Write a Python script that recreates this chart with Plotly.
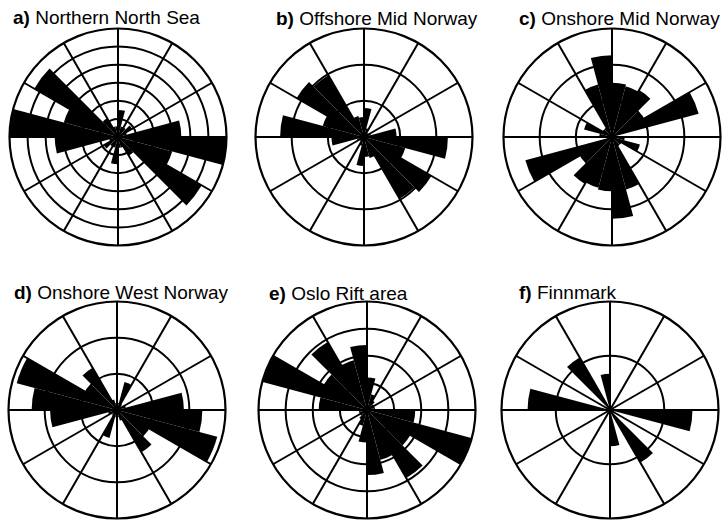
import plotly.graph_objects as go

# Bidirectional rose diagrams: 15-degree azimuth bins (0-180), mirrored to 180-360
bin_starts = [0, 15, 30, 45, 60, 75, 90, 105, 120, 135, 150, 165]
bin_width = 15

northern_north_sea = [1.5, 0.6, 0.6, 0.9, 0.5, 3.5, 6.0, 3.1, 5.35, 1.2, 0.6, 0.6]
offshore_mid_norway = [0.8, 0.25, 0.15, 0.15, 0.2, 0.9, 2.32, 1.18, 2.15, 1.97, 0.6, 0.55]
onshore_mid_norway = [1.5, 1.45, 1.5, 1.0, 2.48, 0.15, 0.35, 0.8, 0.3, 0.3, 1.5, 2.26]
onshore_west_norway = [0.2, 0.8, 0.2, 0.15, 0.25, 1.85, 2.36, 2.87, 1.0, 1.35, 0.3, 0.2]
oslo_rift_area = [1.2, 0.6, 0.4, 0.3, 0.3, 0.3, 1.78, 3.98, 1.85, 2.9, 1.9, 2.4]
finnmark = [0, 0, 0, 0, 0, 0, 1.52, 0, 0, 1.12, 0, 0.67]

panel_letters = ["a)", "b)", "c)", "d)", "e)", "f)"]
panel_names = ["Northern North Sea", "Offshore Mid Norway", "Onshore Mid Norway",
               "Onshore West Norway", "Oslo Rift area", "Finnmark"]
panel_values = [northern_north_sea, offshore_mid_norway, onshore_mid_norway,
                onshore_west_norway, oslo_rift_area, finnmark]
ring_counts = [6, 3, 3, 3, 4, 2]

W, H = 728, 520
centers = [(118, 137), (364, 137), (612, 137), (117, 410), (367, 410), (610, 410)]
radius = 108.5
title_pos = [(11, 18), (274, 19), (517, 19), (12, 292), (267, 293), (517, 292)]

fig = go.Figure()
layout = dict(width=W, height=H, margin=dict(l=0, r=0, t=0, b=0),
              paper_bgcolor="white", plot_bgcolor="white", showlegend=False)

annotations = []
for i, vals in enumerate(panel_values):
    key = "polar" if i == 0 else f"polar{i + 1}"
    centers_theta = [s + bin_width / 2 for s in bin_starts]
    theta = centers_theta + [t + 180 for t in centers_theta]
    r = list(vals) + list(vals)
    fig.add_trace(go.Barpolar(
        r=r, theta=theta, width=[bin_width] * len(theta),
        marker=dict(color="black", line=dict(width=0)),
        subplot=key, hoverinfo="skip",
    ))
    cx, cy = centers[i]
    n = ring_counts[i]
    layout[key] = dict(
        domain=dict(x=[(cx - radius) / W, (cx + radius) / W],
                    y=[1 - (cy + radius) / H, 1 - (cy - radius) / H]),
        bgcolor="white",
        angularaxis=dict(direction="clockwise", rotation=90,
                         tickmode="array", tickvals=list(range(0, 360, 30)),
                         showticklabels=False, ticks="",
                         showgrid=True, gridcolor="black", gridwidth=1.8,
                         showline=True, linecolor="black", linewidth=2.2),
        radialaxis=dict(range=[0, n], tickmode="array",
                        tickvals=list(range(1, n + 1)),
                        showticklabels=False, ticks="", showline=False,
                        showgrid=True, gridcolor="black", gridwidth=1.8),
    )
    tx, ty = title_pos[i]
    annotations.append(dict(
        x=tx / W, y=1 - ty / H, xref="paper", yref="paper",
        xanchor="left", yanchor="middle", showarrow=False,
        text=f"<b>{panel_letters[i]}</b> {panel_names[i]}",
        font=dict(family="Liberation Sans, Arial, sans-serif", size=19, color="black"),
    ))

layout["annotations"] = annotations
fig.update_layout(**layout)
fig.write_html("out.html")
